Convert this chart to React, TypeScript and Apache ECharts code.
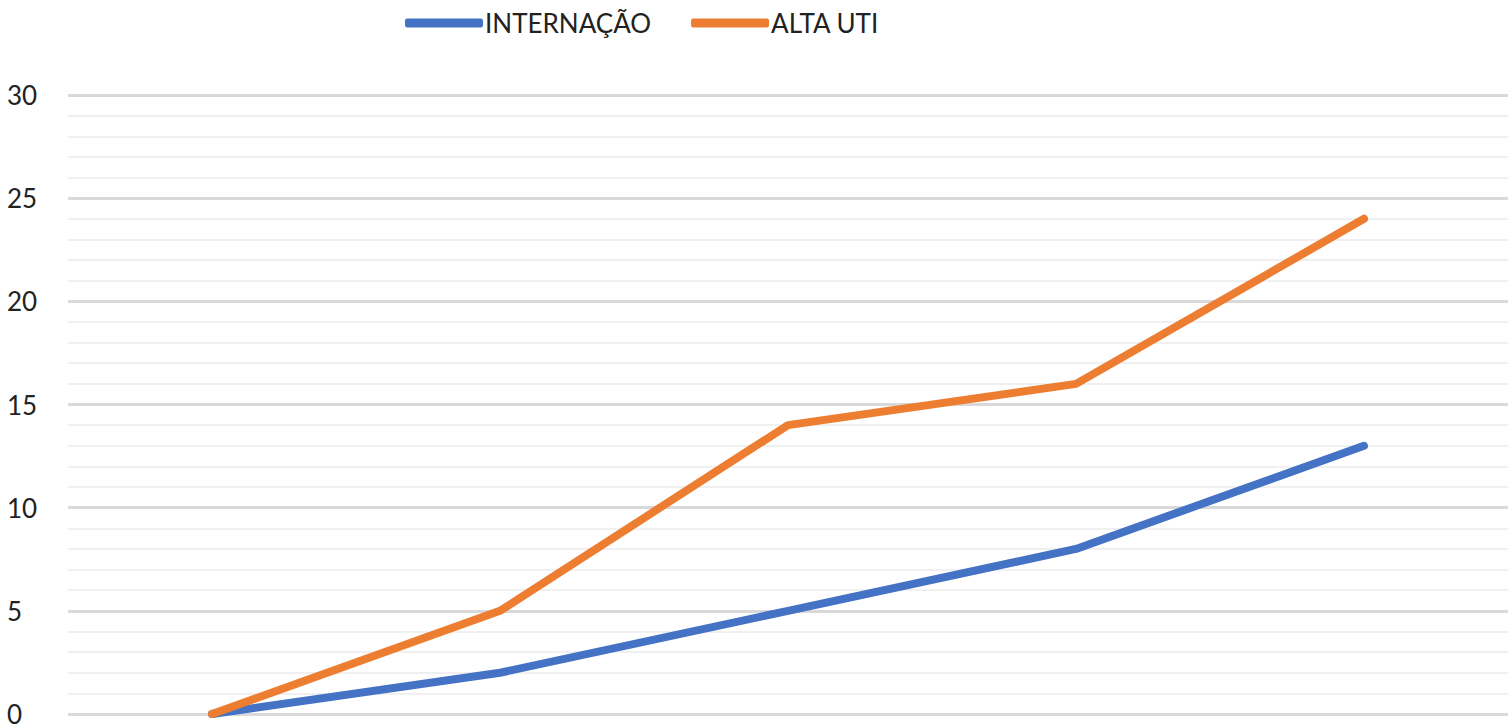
import React, { useEffect, useRef } from "react";
import * as echarts from "echarts";

const categories = ["1", "2", "3", "4", "5"];
const internacao = [0, 2, 5, 8, 13];
const altaUti = [0, 5, 14, 16, 24];
const seriesNames = ["INTERNAÇÃO", "ALTA UTI"];

export default function App() {
  const ref = useRef<HTMLDivElement>(null);
  useEffect(() => {
    document.body.style.margin = "0";
    const chart = echarts.init(ref.current!, undefined, { renderer: "svg" });
    chart.setOption({
      animation: false,
      backgroundColor: "#ffffff",
      textStyle: { fontFamily: "Lato, 'Open Sans', sans-serif" },
      legend: {
        left: 400,
        top: 5,
        icon: "roundRect",
        itemWidth: 78,
        itemHeight: 9,
        itemGap: 40,
        textStyle: { fontSize: 26, color: "#222", padding: [0, 0, 0, -3] },
        data: seriesNames,
      },
      grid: { left: 68, right: 1, top: 95, bottom: 12, containLabel: false },
      xAxis: {
        type: "category",
        data: categories,
        boundaryGap: true,
        axisLine: { show: false },
        axisTick: { show: false },
        axisLabel: { show: false },
        splitLine: { show: false },
      },
      yAxis: {
        type: "value",
        min: 0,
        max: 30,
        interval: 5,
        axisLine: { show: false },
        axisTick: { show: false },
        axisLabel: {
          fontSize: 26,
          color: "#222",
          align: "left",
          margin: 61,
        },
        splitLine: { show: true, lineStyle: { color: "#d9d9d9", width: 3 } },
        minorTick: { show: false, splitNumber: 5 },
        minorSplitLine: { show: true, lineStyle: { color: "#f0f0f0", width: 2 } },
      },
      series: [
        {
          name: seriesNames[0],
          type: "line",
          data: internacao,
          symbol: "none",
          lineStyle: { color: "#4472C4", width: 8, cap: "round", join: "round" },
          itemStyle: { color: "#4472C4" },
        },
        {
          name: seriesNames[1],
          type: "line",
          data: altaUti,
          symbol: "none",
          lineStyle: { color: "#ED7D31", width: 8, cap: "round", join: "round" },
          itemStyle: { color: "#ED7D31" },
        },
      ],
    });
    return () => chart.dispose();
  }, []);
  return (
    <div
      ref={ref}
      style={{ position: "fixed", left: 0, top: 0, width: 1509, height: 727 }}
    />
  );
}
